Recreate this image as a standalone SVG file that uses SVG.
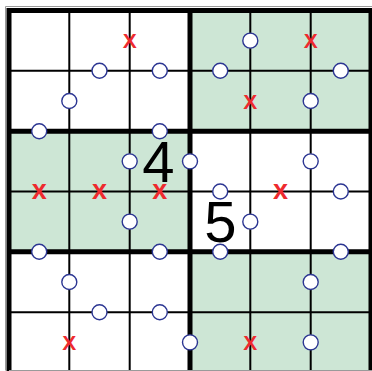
<svg xmlns="http://www.w3.org/2000/svg" width="372" height="371" viewBox="0 0 372 371">
<style>
.g{fill:#cde6d5}
.thin{stroke:#000;stroke-width:2;fill:none}
.thick{stroke:#000;stroke-width:5;fill:none;stroke-linecap:square}
.c{fill:#fff;stroke:#2b3592;stroke-width:1.4}
.X{font-family:"Liberation Sans",Arial,sans-serif;font-weight:bold;fill:#ee2a2e;text-anchor:middle}
.big{font-size:21px}
.sm{font-size:27px}
.n{font-family:"Liberation Sans",Arial,sans-serif;font-size:58px;fill:#000;text-anchor:middle}
</style>
<rect width="372" height="371" fill="#fff"/>
<g id="regions">
<rect class="g" x="190" y="10.5" width="182" height="120.7"/>
<rect class="g" x="9" y="131.2" width="181" height="120.6"/>
<rect class="g" x="190" y="251.8" width="182" height="121"/>
</g>
<g id="grid">
<path class="thin" d="M69.3 10.5V373M129.7 10.5V373M250.3 10.5V373M310.7 10.5V373M9 70.8H371M9 191.5H371M9 312.2H371"/>
<path class="thick" d="M9 10.5V373M190 10.5V373M371 10.5V373M9 10.5H371M9 131.2H371M9 251.8H371M9 372.5H371"/>
<path d="M5.5 370.5V6.5H372M9 370.5H372" stroke="#9a9a9a" stroke-width="1" fill="none"/>
</g>
<g id="givens">
<text class="n" x="158.5" y="182">4</text>
<text class="n" x="220.5" y="242">5</text>
</g>
<g id="crosses">
<text class="X big" x="129.7" y="48.3">X</text>
<text class="X big" x="310.7" y="48.3">X</text>
<text class="X big" x="250.3" y="108.6">X</text>
<text class="X sm" x="39.2" y="199">x</text>
<text class="X sm" x="99.5" y="199">x</text>
<text class="X sm" x="159.8" y="199">x</text>
<text class="X sm" x="280.5" y="199">x</text>
<text class="X big" x="69.3" y="350.2">X</text>
<text class="X big" x="250.3" y="350.2">X</text>
</g>
<g id="circles">
<circle class="c" cx="250.3" cy="40.65" r="7.5"/>
<circle class="c" cx="99.5" cy="70.8" r="7.5"/>
<circle class="c" cx="159.8" cy="70.8" r="7.5"/>
<circle class="c" cx="220.2" cy="70.8" r="7.5"/>
<circle class="c" cx="340.8" cy="70.8" r="7.5"/>
<circle class="c" cx="69.3" cy="101" r="7.5"/>
<circle class="c" cx="310.7" cy="101" r="7.5"/>
<circle class="c" cx="39.2" cy="131.2" r="7.5"/>
<circle class="c" cx="159.8" cy="131.2" r="7.5"/>
<circle class="c" cx="129.7" cy="161.35" r="7.5"/>
<circle class="c" cx="190" cy="161.35" r="7.5"/>
<circle class="c" cx="310.7" cy="161.35" r="7.5"/>
<circle class="c" cx="220.2" cy="191.5" r="7.5"/>
<circle class="c" cx="340.8" cy="191.5" r="7.5"/>
<circle class="c" cx="129.7" cy="221.65" r="7.5"/>
<circle class="c" cx="250.3" cy="221.65" r="7.5"/>
<circle class="c" cx="39.2" cy="251.8" r="7.5"/>
<circle class="c" cx="159.8" cy="251.8" r="7.5"/>
<circle class="c" cx="220.2" cy="251.8" r="7.5"/>
<circle class="c" cx="340.8" cy="251.8" r="7.5"/>
<circle class="c" cx="69.3" cy="282" r="7.5"/>
<circle class="c" cx="310.7" cy="282" r="7.5"/>
<circle class="c" cx="99.5" cy="312.2" r="7.5"/>
<circle class="c" cx="159.8" cy="312.2" r="7.5"/>
<circle class="c" cx="190" cy="342.35" r="7.5"/>
<circle class="c" cx="310.7" cy="342.35" r="7.5"/>
</g>
</svg>
